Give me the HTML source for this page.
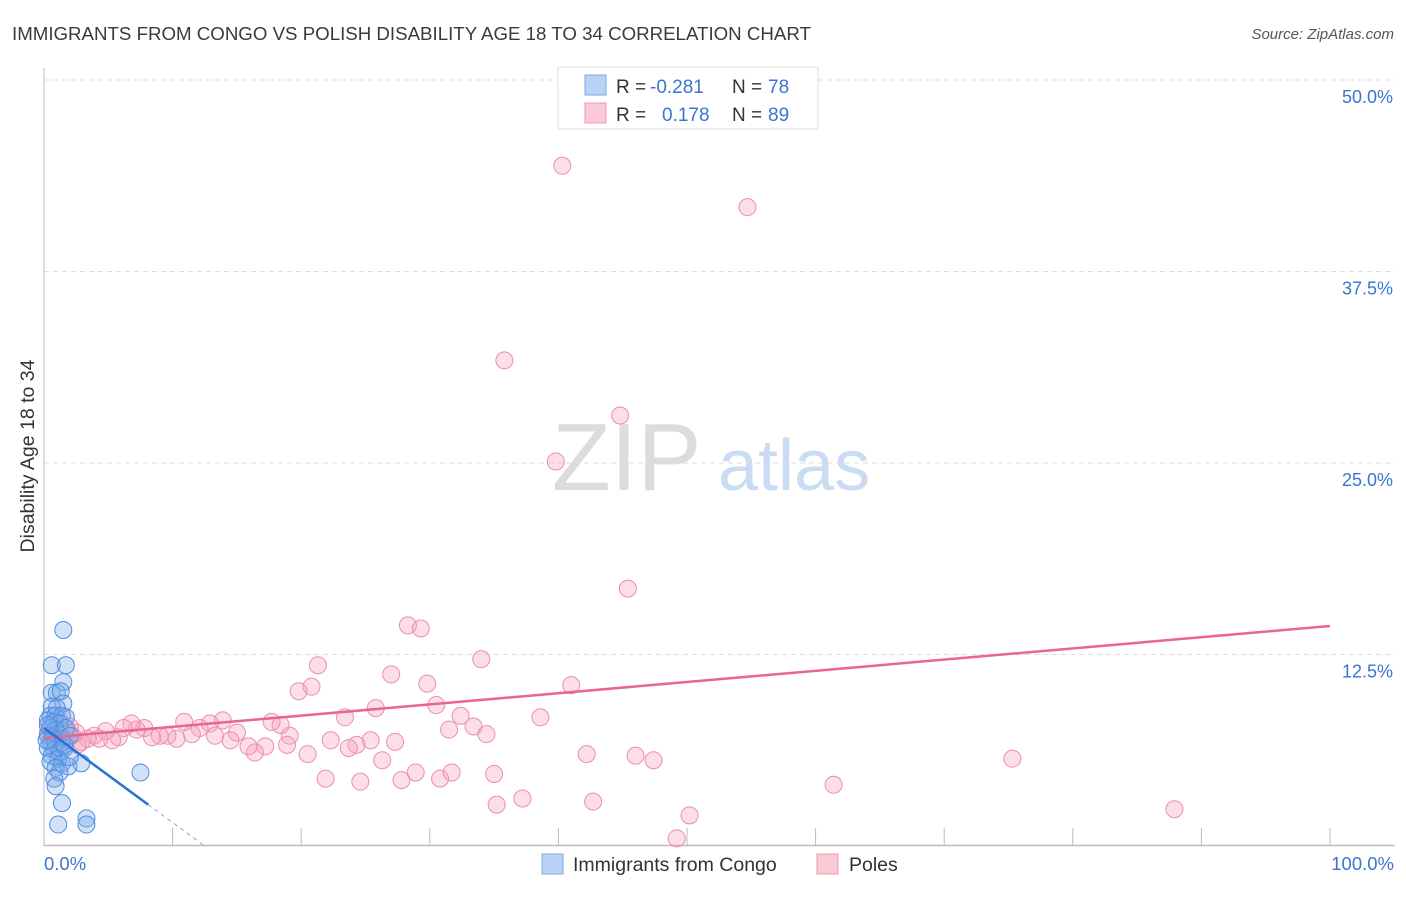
<!DOCTYPE html>
<html><head><meta charset="utf-8"><style>
body{margin:0;background:#fff;font-family:"Liberation Sans",sans-serif}
svg text{font-family:"Liberation Sans",sans-serif}
</style></head><body>
<svg id="chart" width="1406" height="892" xmlns="http://www.w3.org/2000/svg">
<text x="12" y="40" font-size="18.7" fill="#3a3a3a">IMMIGRANTS FROM CONGO VS POLISH DISABILITY AGE 18 TO 34 CORRELATION CHART</text>
<text x="1394" y="39" font-size="15" fill="#555" text-anchor="end" font-style="italic">Source: ZipAtlas.com</text>
<text x="34" y="456" font-size="19.5" fill="#333" text-anchor="middle" transform="rotate(-90 34 456)">Disability Age 18 to 34</text>
<g><text x="552" y="490" font-size="96" font-family="Liberation Serif" fill="#dcdcdc">ZIP</text><text x="718" y="490" font-size="72" fill="#c9dcf3">atlas</text></g>
<g id="grid"></g><g id="pts"></g><g id="lines"></g>
<g>
<rect x="558" y="67" width="260" height="62" fill="#fff" stroke="#ddd"/>
<rect x="585" y="75" width="21" height="20" fill="#b9d3f5" stroke="#7aaae6"/>
<rect x="585" y="103" width="21" height="20" fill="#fbc8d6" stroke="#ef9ab3"/>
<text x="616" y="93" font-size="19" fill="#333">R = </text><text x="650" y="93" font-size="19" fill="#3b75d1">-0.281</text>
<text x="732" y="93" font-size="19" fill="#333">N = </text><text x="768" y="93" font-size="19" fill="#3b75d1">78</text>
<text x="616" y="121" font-size="19" fill="#333">R = </text><text x="662" y="121" font-size="19" fill="#3b75d1">0.178</text>
<text x="732" y="121" font-size="19" fill="#333">N = </text><text x="768" y="121" font-size="19" fill="#3b75d1">89</text>
</g>
<g>
<rect x="542" y="854" width="21" height="20" fill="#b9d3f5" stroke="#7aaae6"/>
<text x="573" y="871" font-size="19.5" fill="#333">Immigrants from Congo</text>
<rect x="817" y="854" width="21" height="20" fill="#fbc8d6" stroke="#ef9ab3"/>
<text x="849" y="871" font-size="19.5" fill="#333">Poles</text>
</g>
<text x="44" y="870" font-size="18.5" fill="#3b75d1">0.0%</text>
<text x="1394" y="870" font-size="18.5" fill="#3b75d1" text-anchor="end">100.0%</text>
</svg>
<script>
const yTicks=[12.5,25,37.5,50];
const yTickLabels=["12.5%","25.0%","37.5%","50.0%"];
const xTicks=[0,10,20,30,40,50,60,70,80,90,100];
const congoX=[1.5,0.6,1.7,1.5,0.6,1.0,1.3,1.5,0.6,1.0,0.5,0.9,1.4,1.7,0.3,0.8,1.2,0.5,0.9,0.3,0.7,1.1,1.4,0.5,0.9,0.3,0.8,1.2,1.6,0.6,1.1,0.5,1.4,0.9,1.9,1.2,0.8,2.9,2.0,7.5,0.9,1.4,1.1,3.3,3.3,0.3,0.2,1.6,1.7,2.0];
const congoY=[14.1,11.8,11.8,10.7,10.0,10.0,10.1,9.3,9.1,9.0,8.5,8.5,8.5,8.4,8.2,8.1,8.0,7.7,7.6,7.2,7.1,7.3,7.0,6.8,6.7,6.4,6.3,6.1,6.4,5.9,5.7,5.5,5.4,5.1,5.2,4.8,4.4,5.4,5.8,4.8,3.9,2.8,1.4,1.8,1.4,7.9,6.9,6.6,7.7,7.2];
const polesX=[40.3,54.7,35.8,44.8,39.8,45.4,28.3,29.3,34.0,21.3,27.0,41.0,20.8,19.8,29.8,25.8,30.5,32.4,38.6,23.4,33.4,31.5,34.4,75.3,61.4,87.9,50.2,49.2,42.7,37.2,35.2,21.9,24.6,27.8,28.9,30.8,31.7,35.0,42.2,46.0,47.4,26.3,27.3,25.4,24.3,23.7,22.3,20.5,19.1,18.9,18.4,17.7,17.2,16.4,15.9,15.0,14.5,13.9,12.9,13.3,12.1,11.5,10.9,10.3,9.6,9.0,8.4,7.8,7.2,6.8,6.2,5.8,5.3,4.8,4.3,3.9,3.4,2.9,2.5,2.0,1.6,1.1,0.6,0.5,1.2,0.9,1.7,2.2,0.3,2.6];
const polesY=[44.4,41.7,31.7,28.1,25.1,16.8,14.4,14.2,12.2,11.8,11.2,10.5,10.4,10.1,10.6,9.0,9.2,8.5,8.4,8.4,7.8,7.6,7.3,5.7,4.0,2.4,2.0,0.5,2.9,3.1,2.7,4.4,4.2,4.3,4.8,4.4,4.8,4.7,6.0,5.9,5.6,5.6,6.8,6.9,6.6,6.4,6.9,6.0,7.2,6.6,7.9,8.1,6.5,6.1,6.5,7.4,6.9,8.2,8.0,7.2,7.7,7.3,8.1,7.0,7.2,7.2,7.1,7.7,7.6,8.0,7.7,7.1,6.9,7.5,7.0,7.2,7.0,6.8,7.4,7.8,7.6,6.9,7.2,7.9,8.2,6.6,6.9,7.2,7.4,6.6];
const congoTrend=[[0,7.7],[8.1,2.7],[12.5,0]];
const polesTrend=[[0,7.05],[100,14.36]];
const X=v=>44+v*12.86, Y=v=>846-v*15.32;
const NS="http://www.w3.org/2000/svg";
function mk(t,a,p){const e=document.createElementNS(NS,t);for(const k in a)e.setAttribute(k,a[k]);p.appendChild(e);return e;}
const grid=document.getElementById('grid');
mk('line',{x1:44,y1:68,x2:44,y2:846,stroke:'#bbb'},grid);
mk('line',{x1:44,y1:845.5,x2:1395,y2:845.5,stroke:'#bbb','stroke-width':1.5},grid);
yTicks.forEach((v,i)=>{
 const l=mk('line',{x1:44,y1:Y(v),x2:1395,y2:Y(v),stroke:'#ddd','stroke-dasharray':'5,4'},grid);
 
 
 const t=mk('text',{x:1393,y:Y(v)+23,'font-size':18,fill:'#3b75d1','text-anchor':'end'},grid);
 t.textContent=yTickLabels[i];
 
 
});
xTicks.forEach(v=>{
 const l=mk('line',{x1:X(v),y1:828,x2:X(v),y2:846,stroke:'#bbb'},grid);
 
 
});
const pts=document.getElementById('pts');
polesX.forEach((x,i)=>{
 const c=mk('circle',{cx:X(x),cy:Y(polesY[i]),r:8.5,fill:'rgba(247,160,186,0.35)',stroke:'#ec8fab','stroke-width':1},pts);
 
 
});
congoX.forEach((x,i)=>{
 const c=mk('circle',{cx:X(x),cy:Y(congoY[i]),r:8.5,fill:'rgba(120,170,235,0.35)',stroke:'#4f8ee0','stroke-width':1},pts);
 
 
});
const lines=document.getElementById('lines');
const pl=mk('line',{x1:X(polesTrend[0][0]),y1:Y(polesTrend[0][1]),x2:X(polesTrend[1][0]),y2:Y(polesTrend[1][1]),stroke:'#e8668f','stroke-width':2.5},lines);


const cl=mk('line',{x1:X(congoTrend[0][0]),y1:Y(congoTrend[0][1]),x2:X(congoTrend[1][0]),y2:Y(congoTrend[1][1]),stroke:'#2a6fd6','stroke-width':2.5},lines);


const cd=mk('line',{x1:X(congoTrend[1][0]),y1:Y(congoTrend[1][1]),x2:X(congoTrend[2][0]),y2:Y(congoTrend[2][1]),stroke:'#8aa8d8','stroke-width':1,'stroke-dasharray':'4,4'},lines);


</script>
</body></html>
